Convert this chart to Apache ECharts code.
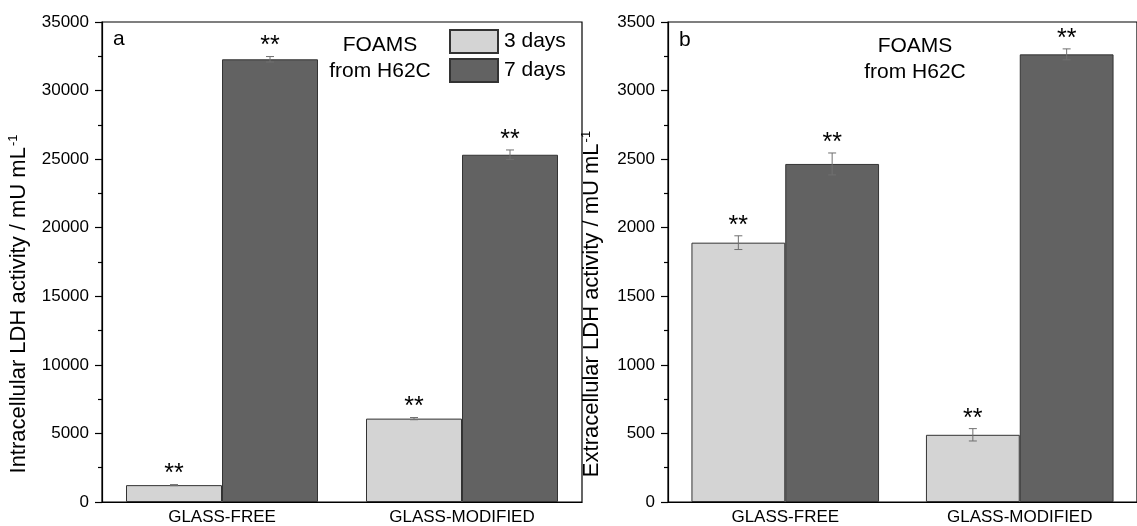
<!DOCTYPE html>
<html>
<head>
<meta charset="utf-8">
<script src="https://cdn.jsdelivr.net/npm/echarts@6/dist/echarts.min.js"></script>
<style>html,body{margin:0;padding:0;background:#fff;}#c{width:1137px;height:526px;}</style>
</head>
<body>
<div id="c"></div>
<script>
const categories = ['GLASS-FREE', 'GLASS-MODIFIED'];
const seriesNames = ['3 days', '7 days'];
// Panel a: intracellular LDH
const intra3 = [1230, 6080];
const intra3Err = [40, 80];
const intra7 = [32280, 25320];
const intra7Err = [200, 350];
// Panel b: extracellular LDH
const extra3 = [1891, 490];
const extra3Err = [50, 45];
const extra7 = [2465, 3264];
const extra7Err = [80, 40];
const yMaxA = 35000, yIntA = 5000;
const yMaxB = 3500, yIntB = 500;
const panelLabels = ['a', 'b'];
const annot = 'FOAMS\nfrom H62C';
const sig = '**';

const FONT = '"Liberation Sans", Arial, sans-serif';
const light = '#d4d4d4', dark = '#626262';

const chart = echarts.init(document.getElementById('c'));

function errSeries(gridIdx, vals, errs, side) {
  return {
    type: 'custom',
    xAxisIndex: gridIdx, yAxisIndex: gridIdx,
    z: 10,
    data: vals.map((v, i) => [i, v, errs[i]]),
    renderItem: function (params, api) {
      const i = api.value(0), v = api.value(1), e = api.value(2);
      const bw = api.size([1, 0])[0];
      const c = api.coord([i, v]);
      const x = c[0] + side * bw * 0.2;
      const yTop = api.coord([i, v + e])[1];
      const yBot = api.coord([i, v - e])[1];
      const cap = 4;
      const st = { stroke: '#707070', lineWidth: 1 };
      return {
        type: 'group',
        children: [
          { type: 'line', shape: { x1: x, y1: yTop, x2: x, y2: yBot }, style: st },
          { type: 'line', shape: { x1: x - cap, y1: yTop, x2: x + cap, y2: yTop }, style: st },
          { type: 'line', shape: { x1: x - cap, y1: yBot, x2: x + cap, y2: yBot }, style: st },
          { type: 'text', style: { x: x, y: yTop - 10, text: sig, fontSize: 25, fontFamily: FONT, fill: '#000', align: 'center', verticalAlign: 'middle' } }
        ]
      };
    }
  };
}

function yAxisDef(gridIdx, max, interval, nameMain, gap) {
  return {
    type: 'value', gridIndex: gridIdx, min: 0, max: max, interval: interval,
    axisLine: { show: true, lineStyle: { color: '#000', width: 1.2 } },
    axisTick: { show: true, length: 7, lineStyle: { color: '#000', width: 1.2 } },
    minorTick: { show: true, splitNumber: 2, length: 4, lineStyle: { color: '#000', width: 1.2 } },
    splitLine: { show: false },
    axisLabel: { color: '#000', fontSize: 17, fontFamily: FONT, margin: 13, formatter: v => String(v) },
    name: '{a|' + nameMain + '}{b|-1}',
    nameLocation: 'middle', nameGap: gap,
    nameTextStyle: {
      fontFamily: FONT, color: '#000',
      padding: [0, 84, 0, 0],
      rich: {
        a: { fontSize: 22, fontFamily: FONT, color: '#000' },
        b: { fontSize: 13, fontFamily: FONT, color: '#000', verticalAlign: 'top', padding: [0, 0, 11, 1] }
      }
    }
  };
}

function xAxisDef(gridIdx) {
  return {
    type: 'category', gridIndex: gridIdx, data: categories,
    axisLine: { show: true, lineStyle: { color: '#000', width: 1.2 } },
    axisTick: { show: false },
    axisLabel: { color: '#000', fontSize: 17, fontFamily: FONT, margin: 7 }
  };
}

function barSeries(gridIdx, name, vals, color) {
  return {
    type: 'bar', name: name, xAxisIndex: gridIdx, yAxisIndex: gridIdx,
    data: vals, barWidth: '40%', barGap: '0%',
    itemStyle: { color: color, borderColor: '#333', borderWidth: 1 }
  };
}

const option = {
  backgroundColor: '#fff',
  animation: false,
  grid: [
    { left: 102, top: 22, width: 480, height: 480, show: true, borderColor: '#000', borderWidth: 1.2 },
    { left: 668, top: 22, width: 480, height: 480, show: true, borderColor: '#000', borderWidth: 1.2 }
  ],
  xAxis: [xAxisDef(0), xAxisDef(1)],
  yAxis: [
    yAxisDef(0, yMaxA, yIntA, 'Intracellular LDH activity / mU mL', 71),
    yAxisDef(1, yMaxB, yIntB, 'Extracellular LDH activity / mU mL', 64)
  ],
  legend: {
    orient: 'vertical', left: 449, top: 29, padding: 0,
    itemWidth: 48, itemHeight: 23, itemGap: 4,
    data: seriesNames,
    textStyle: { fontSize: 21, fontFamily: FONT, color: '#000', padding: [0, 0, 0, 1] },
    icon: 'rect'
  },
  graphic: [
    { type: 'text', left: 113, top: 29, style: { text: panelLabels[0], fontSize: 21, fontFamily: FONT, fill: '#000' } },
    { type: 'text', left: 679, top: 30, style: { text: panelLabels[1], fontSize: 21, fontFamily: FONT, fill: '#000' } },
    { type: 'text', x: 380, y: 32, style: { text: annot, fontSize: 21, lineHeight: 26, fontFamily: FONT, fill: '#000', align: 'center' } },
    { type: 'text', x: 915, y: 33, style: { text: annot, fontSize: 21, lineHeight: 26, fontFamily: FONT, fill: '#000', align: 'center' } }
  ],
  series: [
    barSeries(0, seriesNames[0], intra3, light),
    barSeries(0, seriesNames[1], intra7, dark),
    barSeries(1, seriesNames[0], extra3, light),
    barSeries(1, seriesNames[1], extra7, dark),
    errSeries(0, intra3, intra3Err, -1),
    errSeries(0, intra7, intra7Err, 1),
    errSeries(1, extra3, extra3Err, -1),
    errSeries(1, extra7, extra7Err, 1)
  ]
};
chart.setOption(option);
</script>
</body>
</html>
